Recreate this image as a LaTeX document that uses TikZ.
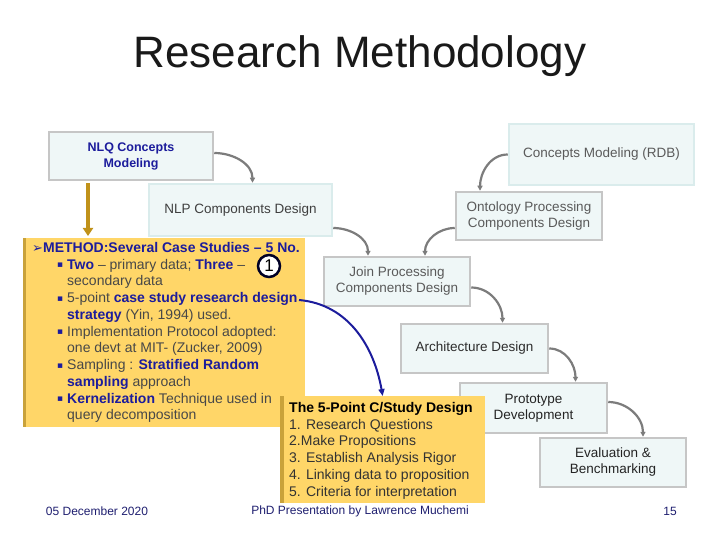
\documentclass[tikz,border=0pt]{standalone}
\usepackage{fontspec}
\setmainfont{Liberation Sans}
\newfontfamily\symfont{DejaVu Sans}
\usetikzlibrary{arrows.meta}
\definecolor{boxgray}{HTML}{C6C6C6}
\definecolor{boxcyan}{HTML}{DAECEC}
\definecolor{boxfill}{HTML}{EFF7F7}
\definecolor{txtgray}{HTML}{5A5A5A}
\definecolor{arrgray}{HTML}{7C7C7C}
\definecolor{noteyel}{HTML}{FFD668}
\definecolor{notebar}{HTML}{C9A23A}
\definecolor{goldarr}{HTML}{C0921A}
\definecolor{hlblue}{HTML}{1C1C9C}
\definecolor{footblue}{HTML}{1F1F70}
\newcommand\hl[1]{\textbf{\color{hlblue}#1}}
\newcommand\blt{\makebox[10pt][l]{\raisebox{1.5pt}{\color{hlblue}\symfont\fontsize{9}{9}\selectfont ▪}}}

\begin{document}
\begin{tikzpicture}[
  x=1pt, y=-1pt,
  gbox/.style={rectangle, draw=boxgray, line width=2.5pt, fill=boxfill, text=txtgray,
    align=center, font=\fontsize{13.5}{16}\selectfont, inner sep=0pt},
  cbox/.style={gbox, draw=boxcyan},
  flow/.style={-{Triangle[length=5pt,width=5pt]}, arrgray, line width=2.2pt},
  note/.style={rectangle, fill=noteyel, inner sep=0pt, anchor=north west},
  notetext/.style={anchor=north west, align=left, inner sep=0pt, text=txtgray!80!black,
    font=\fontsize{14}{16.75}\selectfont},
  foot/.style={text=footblue, font=\fontsize{12}{14}\selectfont}
]
\useasboundingbox[fill=white] (0,0) rectangle (720,540);

% Title
\node[anchor=base, text=black!90, font=\fontsize{44}{50}\selectfont] (title) at (360,68) {Research Methodology};

% Flow boxes
\node[gbox, minimum width=164pt, minimum height=48pt, text=hlblue, font=\bfseries\fontsize{12.5}{16}\selectfont] (nlq) at (131,156) {NLQ Concepts\\Modeling};
\node[cbox, minimum width=185pt, minimum height=61pt] (rdb) at (601.5,154.5) {Concepts Modeling (RDB)};
\node[cbox, minimum width=183pt, minimum height=52pt, text=txtgray!70!black] (nlp) at (240.5,210) {NLP Components Design};
\node[gbox, minimum width=146pt, minimum height=48pt] (onto) at (529,216) {Ontology Processing\\Components Design};
\node[gbox, minimum width=146pt, minimum height=49pt] (join) at (397,281.5) {Join Processing\\Components Design};
\node[gbox, minimum width=147pt, minimum height=49pt, text=txtgray!50!black] (arch) at (474.5,348.5) {Architecture Design};
\node[gbox, minimum width=147pt, minimum height=50pt, text=txtgray!40!black] (proto) at (533.5,408) {Prototype\\Development};
\node[gbox, minimum width=146pt, minimum height=49pt, text=txtgray!40!black] (eval) at (613,462.5) {Evaluation \&\\Benchmarking};

% Method note
\node[note, minimum width=282pt, minimum height=189pt] (method) at (23,238) {};
\fill[notebar] (method.north west) rectangle ([xshift=3pt]method.south west);
\node[notetext] (methodtxt) at (32,242) {%
\hl{{\symfont\fontsize{13}{13}\selectfont ➢}METHOD:Several Case Studies – 5 No.}\\
\hspace*{25pt}\blt\hl{Two} – primary data; \hl{Three} –\\
\hspace*{35pt}secondary data\\
\hspace*{25pt}\blt 5-point \hl{case study research design}\\
\hspace*{35pt}\hl{strategy} (Yin, 1994) used.\\
\hspace*{25pt}\blt Implementation Protocol adopted:\\
\hspace*{35pt}one devt at MIT- (Zucker, 2009)\\
\hspace*{25pt}\blt Sampling : \hl{Stratified Random}\\
\hspace*{35pt}\hl{sampling} approach\\
\hspace*{25pt}\blt\hl{Kernelization} Technique used in\\
\hspace*{35pt}query decomposition};
\node[circle, draw=black!85!blue, line width=2.5pt, fill=white, minimum size=22pt, inner sep=0pt,
  font=\fontsize{17}{17}\selectfont] (one) at (269,266) {1};

% Five-point note
\node[note, minimum width=205pt, minimum height=107pt] (fivept) at (280,396) {};
\fill[notebar] (fivept.north west) rectangle ([xshift=4pt]fivept.south west);
\node[notetext, text=black!80] (fiveptxt) at (289,402) {%
\textbf{\color{black}The 5-Point C/Study Design}\\
1. Research Questions\\
2.Make Propositions\\
3. Establish Analysis Rigor\\
4. Linking data to proposition\\
5. Criteria for interpretation};

% Connectors
\draw[flow] ([yshift=3pt]nlq.east) to[out=0,in=90] ([xshift=12pt]nlp.north);
\draw[flow] ([yshift=-18pt]nlp.east) to[out=0,in=90] ([xshift=-29pt]join.north);
\draw[flow] (rdb.west) to[out=180,in=90] ([xshift=-49pt]onto.north);
\draw[flow] ([yshift=-12pt]onto.west) to[out=180,in=90] ([xshift=28pt]join.north);
\draw[flow] ([yshift=-6pt]join.east) to[out=0,in=90] ([xshift=28pt]arch.north);
\draw[flow] (arch.east) to[out=0,in=90] ([xshift=42pt]proto.north);
\draw[flow] ([yshift=6pt]proto.east) to[out=0,in=90] ([xshift=30pt]eval.north);
\draw[-{Triangle[length=8pt,width=10pt]}, goldarr, line width=4pt, shorten <=2pt, shorten >=2pt]
  ([xshift=-43pt]nlq.south) -- ([xshift=-43pt]nlq.south |- method.north);
\coordinate (dsgn) at (299,300);
\draw[-{Triangle[length=7pt,width=6pt]}, hlblue, line width=2pt] (dsgn) to[out=-5,in=100] (fivept.north);

% Footer
\node[foot] (date) at (97,511) {05 December 2020};
\node[foot] (pres) at (360,511) {PhD Presentation by Lawrence Muchemi};
\node[foot] (page) at (670,511) {15};
\end{tikzpicture}
\end{document}
